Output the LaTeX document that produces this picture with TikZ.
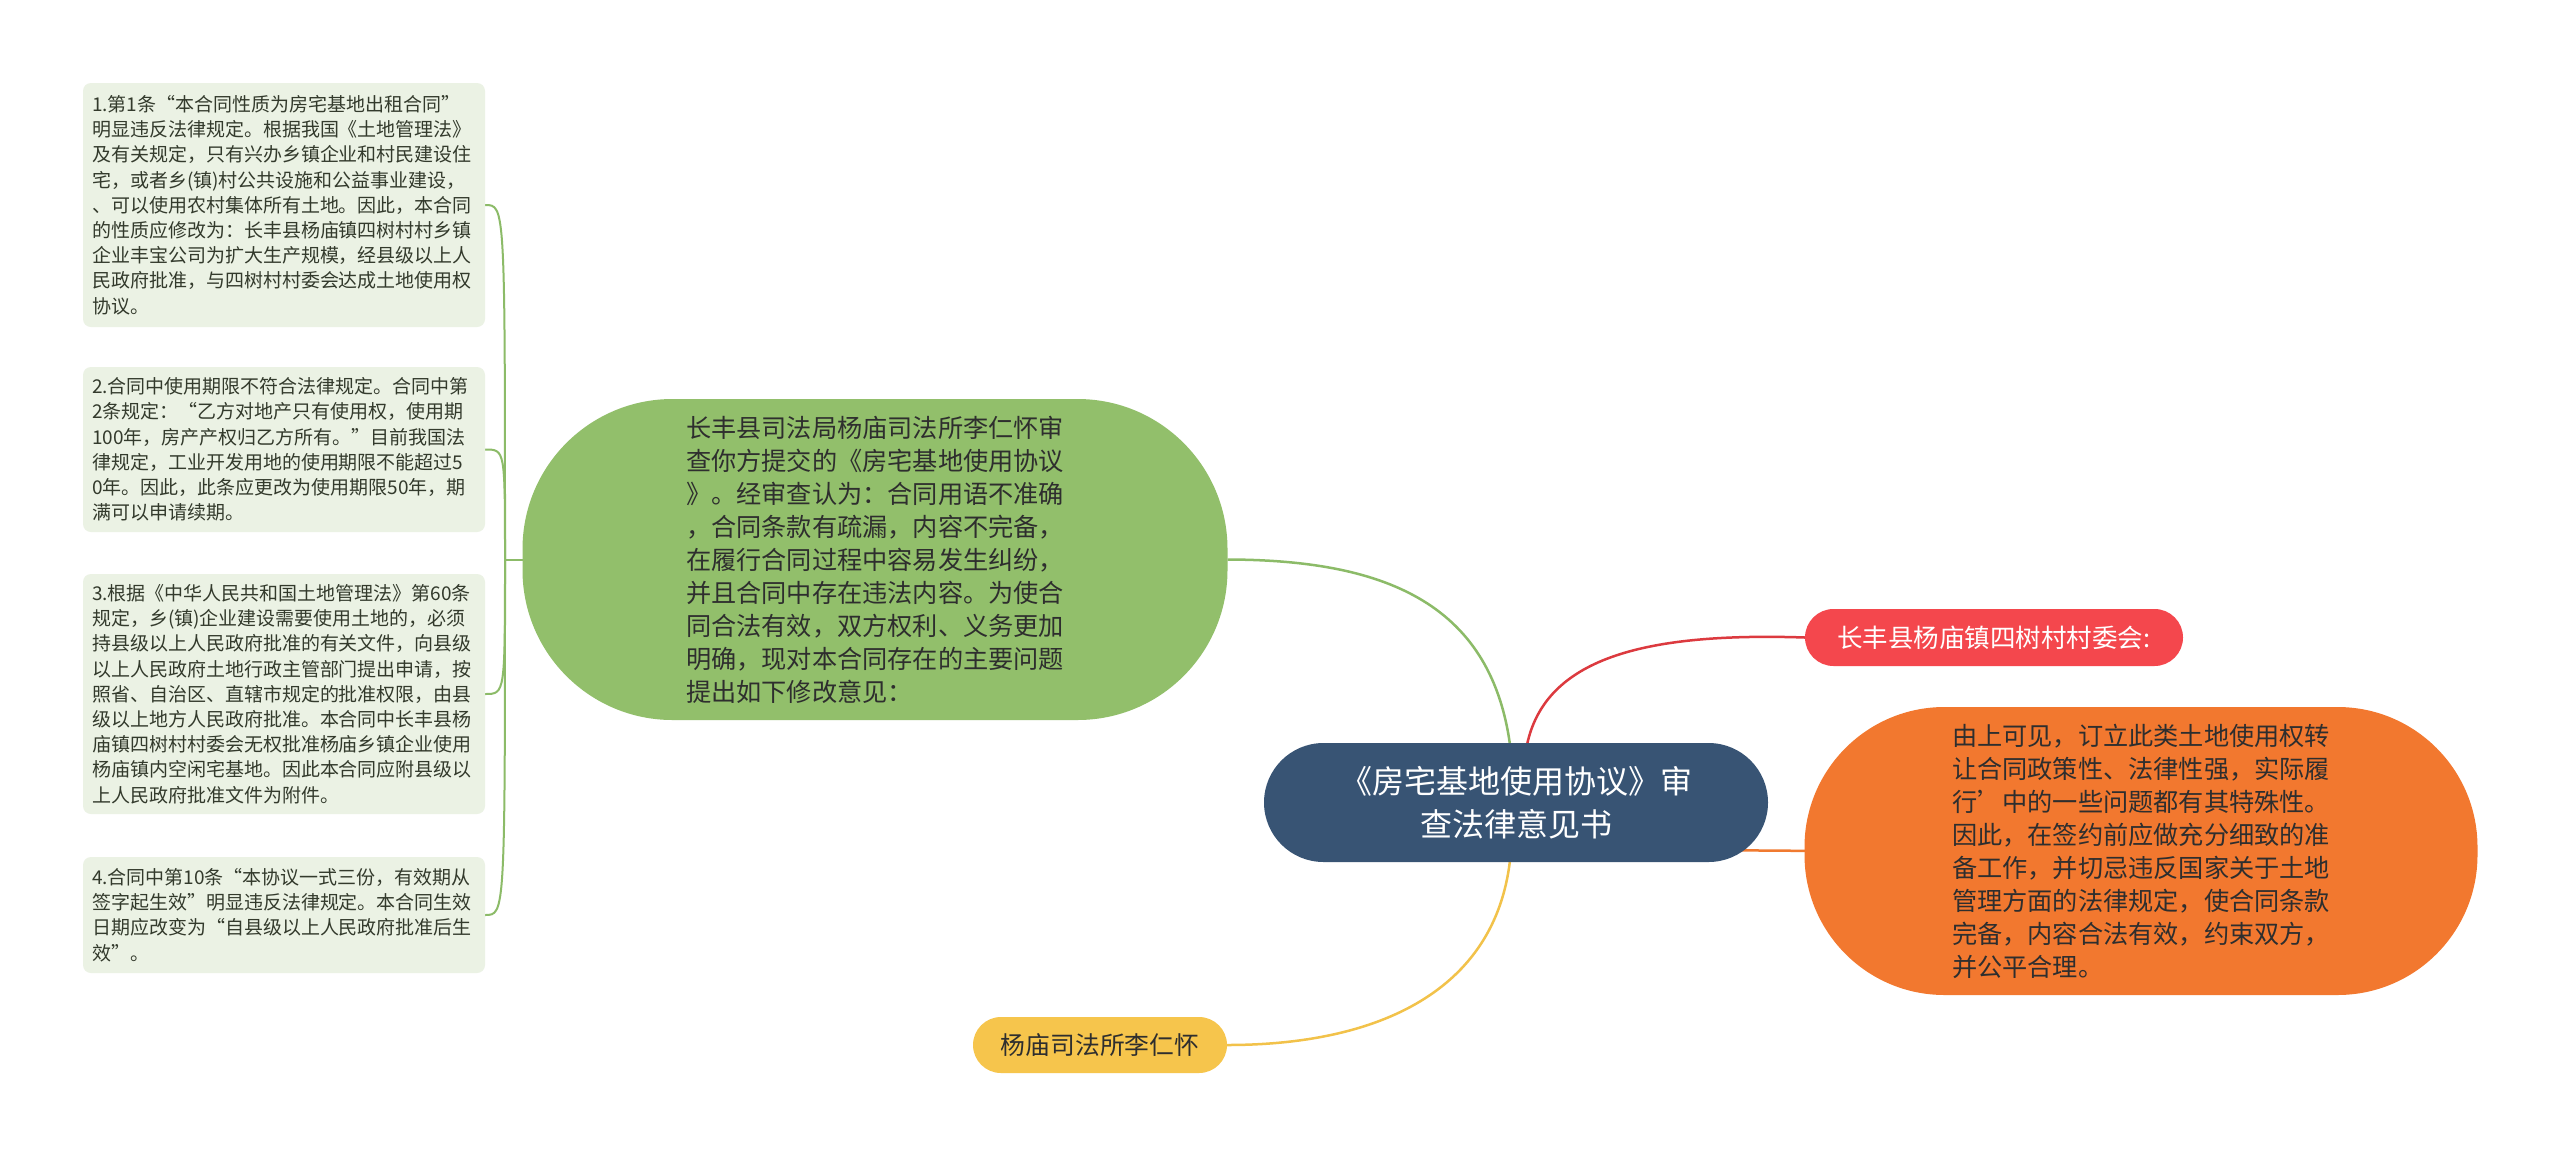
\documentclass[tikz,border=0pt]{standalone}
\usepackage{fontspec}
\newfontfamily\cjk{Noto Sans CJK SC}
\usetikzlibrary{shapes.misc,backgrounds,calc}
\definecolor{leftfill}{HTML}{EBF2E4}
\definecolor{lefttext}{HTML}{333A2C}
\definecolor{greenfill}{HTML}{92BF6B}
\definecolor{greenline}{HTML}{8CBB68}
\definecolor{centerfill}{HTML}{385474}
\definecolor{redfill}{HTML}{F4474D}
\definecolor{redline}{HTML}{DC3A3F}
\definecolor{orangefill}{HTML}{F2782F}
\definecolor{orangeline}{HTML}{F07A30}
\definecolor{yellowfill}{HTML}{F6C54C}
\definecolor{yellowline}{HTML}{F2C24A}
\definecolor{darktext}{HTML}{2E2E2E}
\begin{document}
\begin{tikzpicture}[x=1pt,y=-1pt,
  leafbox/.style={fill=leftfill, rounded corners=8pt, text width=384pt, inner xsep=9pt, inner ysep=0pt,
    minimum width=402pt, align=left, text=lefttext, font=\cjk\fontsize{19}{25.2}\selectfont},
  bigblob/.style={inner sep=0pt, align=left, text=darktext, font=\cjk\fontsize{25.2}{33}\selectfont},
  pill/.style={rounded rectangle, inner sep=0pt},
  trunk/.style={line width=2.5pt},
  twig/.style={line width=2pt, greenline}
]
\useasboundingbox (0,0) rectangle (2560,1157);

% left boxes
\node[leafbox, minimum height=244pt] (b1) at (284,205) {1.第1条“本合同性质为房宅基地出租合同”\\
明显违反法律规定。根据我国《土地管理法》\\
及有关规定，只有兴办乡镇企业和村民建设住\\
宅，或者乡(镇)村公共设施和公益事业建设，\\
、可以使用农村集体所有土地。因此，本合同\\
的性质应修改为：长丰县杨庙镇四树村村乡镇\\
企业丰宝公司为扩大生产规模，经县级以上人\\
民政府批准，与四树村村委会达成土地使用权\\
协议。};
\node[leafbox, minimum height=165pt] (b2) at (284,449.5) {2.合同中使用期限不符合法律规定。合同中第\\
2条规定：“乙方对地产只有使用权，使用期\\
100年，房产产权归乙方所有。”目前我国法\\
律规定，工业开发用地的使用期限不能超过5\\
0年。因此，此条应更改为使用期限50年，期\\
满可以申请续期。};
\node[leafbox, minimum height=240pt] (b3) at (284,694) {3.根据《中华人民共和国土地管理法》第60条\\
规定，乡(镇)企业建设需要使用土地的，必须\\
持县级以上人民政府批准的有关文件，向县级\\
以上人民政府土地行政主管部门提出申请，按\\
照省、自治区、直辖市规定的批准权限，由县\\
级以上地方人民政府批准。本合同中长丰县杨\\
庙镇四树村村委会无权批准杨庙乡镇企业使用\\
杨庙镇内空闲宅基地。因此本合同应附县级以\\
上人民政府批准文件为附件。};
\node[leafbox, minimum height=116pt] (b4) at (284,915) {4.合同中第10条“本协议一式三份，有效期从\\
签字起生效”明显违反法律规定。本合同生效\\
日期应改变为“自县级以上人民政府批准后生\\
效”。};

% green node
\node[bigblob, fill=greenfill, rounded corners=150pt, minimum width=705pt, minimum height=321pt] (g) at (875,559.5) {长丰县司法局杨庙司法所李仁怀审\\
查你方提交的《房宅基地使用协议\\
》。经审查认为：合同用语不准确\\
，合同条款有疏漏，内容不完备，\\
在履行合同过程中容易发生纠纷，\\
并且合同中存在违法内容。为使合\\
同合法有效，双方权利、义务更加\\
明确，现对本合同存在的主要问题\\
提出如下修改意见：};

% orange node
\node[bigblob, fill=orangefill, rounded corners=140pt, minimum width=673pt, minimum height=288pt] (o) at (2141,851) {由上可见，订立此类土地使用权转\\
让合同政策性、法律性强，实际履\\
行’中的一些问题都有其特殊性。\\
因此，在签约前应做充分细致的准\\
备工作，并切忌违反国家关于土地\\
管理方面的法律规定，使合同条款\\
完备，内容合法有效，约束双方，\\
并公平合理。};

% center node
\node[pill, fill=centerfill, minimum width=504pt, minimum height=119pt, text=white, align=center,
  font=\cjk\fontsize{32}{43}\selectfont] (c) at (1516,802.5) {《房宅基地使用协议》审\\查法律意见书};

% red node
\node[pill, fill=redfill, minimum width=378pt, minimum height=57pt, text=white,
  font=\cjk\fontsize{25.5}{30}\selectfont] (r) at (1994,637.5) {长丰县杨庙镇四树村村委会:};

% yellow node
\node[pill, fill=yellowfill, minimum width=254pt, minimum height=56pt, text=darktext,
  font=\cjk\fontsize{24.8}{30}\selectfont] (y) at (1100,1045) {杨庙司法所李仁怀};

\coordinate (J) at (505,559.5);

\begin{pgfonlayer}{background}
\fill[white] (0,0) rectangle (2560,1157);
% centre connectors
\draw[trunk, greenline] ($(c.north)+(-6,2)$) .. controls (1490,600) and (1380,560) .. (g.east);
\draw[trunk, redline] ($(c.north)+(11,2)$) .. controls (1545,660) and (1640,632) .. (r.west);
\draw[trunk, yellowline] ($(c.south)+(-6,-2)$) .. controls (1495,990) and (1380,1045) .. (y.east);
\draw[trunk, orangeline] ($(c.center)+(180,47.5)$) -- ($(o.west)+(20,0)$);
% left tree
\draw[twig] ($(g.west)+(4,0)$) -- (J);
\draw[twig] (b1.east) .. controls (505,205) and (505,205) .. (J);
\draw[twig] (b2.east) .. controls (505,449.5) and (505,449.5) .. (J);
\draw[twig] (b3.east) .. controls (505,694) and (505,694) .. (J);
\draw[twig] (b4.east) .. controls (505,915) and (505,915) .. (J);
\end{pgfonlayer}
\end{tikzpicture}
\end{document}
